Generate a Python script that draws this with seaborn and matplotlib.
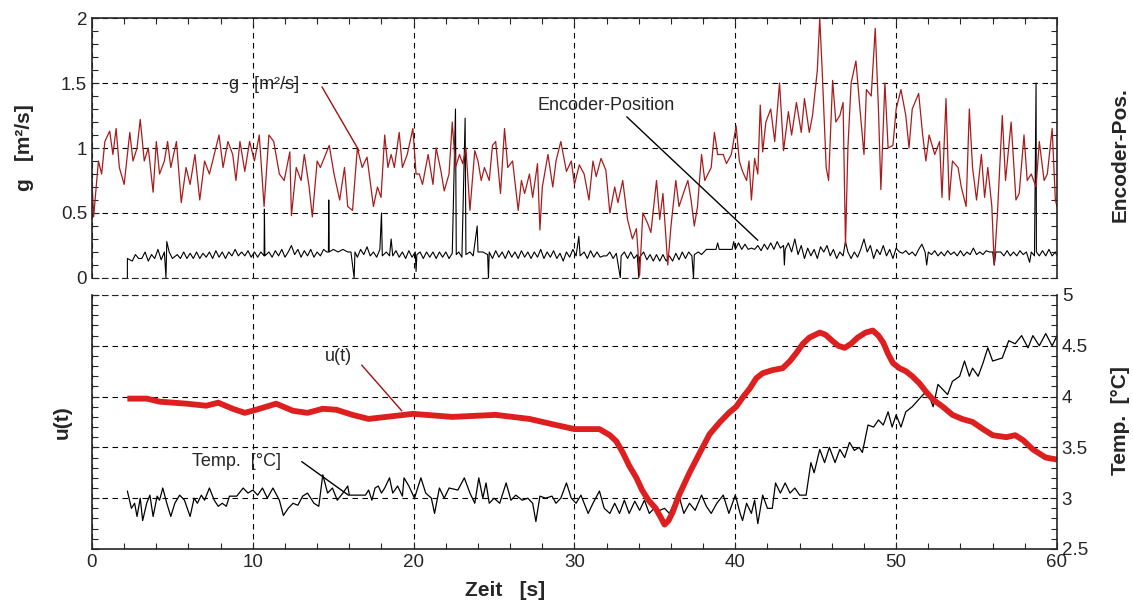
import matplotlib
matplotlib.use("Agg")
import matplotlib.pyplot as plt
import seaborn as sns
from matplotlib.ticker import MultipleLocator

# -----------------------------
# Data
# -----------------------------
g_t = [0.0, 0.1, 0.4, 0.6, 0.8, 1.1, 1.3, 1.5, 1.7, 2.0, 2.35, 2.55, 2.8, 3.0, 3.25, 3.5, 3.8, 4.0, 4.2, 4.5,
       4.7, 4.9, 5.25, 5.55, 5.85, 6.1, 6.4, 6.7, 7.0, 7.3, 7.5, 7.9, 8.15, 8.45, 8.75, 8.95, 9.2, 9.5, 9.8, 10.1,
       10.4, 10.7, 11.0, 11.3, 11.65, 11.95, 12.3, 12.4, 12.7, 13.0, 13.2, 13.5, 13.7, 14.0, 14.2, 14.75, 15.05,
       15.4, 15.7, 15.9, 16.2, 16.5, 16.8, 17.1, 17.5, 17.75, 17.97, 18.2, 18.4, 18.6, 18.8, 19.1, 19.3, 19.6,
       19.95, 20.15, 20.35, 20.55, 20.9, 21.2, 21.4, 21.7, 21.9, 22.2, 22.4, 22.6, 22.85, 23.05, 23.25, 23.5,
       23.8, 24.0, 24.2, 24.4, 24.7, 24.9, 25.1, 25.4, 25.65, 25.85, 26.15, 26.5, 26.7, 26.9, 27.2, 27.4, 27.7,
       27.85, 28.0, 28.35, 28.65, 28.85, 29.15, 29.5, 29.8, 30.0, 30.3, 30.6, 30.9, 31.15, 31.35, 31.65, 31.95,
       32.2, 32.5, 32.7, 33.0, 33.3, 33.6, 33.85, 34.05, 34.25, 34.55, 34.75, 35.1, 35.3, 35.5, 35.8, 36.0, 36.3,
       36.5, 36.85, 37.05, 37.25, 37.45, 37.65, 37.9, 38.1, 38.3, 38.5, 38.7, 38.9, 39.25, 39.45, 39.75, 40.05,
       40.25, 40.45, 40.7, 40.85, 41.0, 41.2, 41.4, 41.55, 41.7, 41.9, 42.2, 42.45, 42.75, 43.0, 43.3, 43.5,
       43.8, 44.1, 44.3, 44.6, 44.8, 45.1, 45.25, 45.4, 45.65, 45.8, 46.05, 46.25, 46.5, 46.7, 46.85, 47.0,
       47.2, 47.5, 47.75, 48.0, 48.15, 48.45, 48.7, 48.9, 49.05, 49.3, 49.5, 49.8, 50.0, 50.3, 50.6, 50.8, 51.0,
       51.4, 51.65, 51.85, 52.05, 52.4, 52.7, 52.85, 53.1, 53.3, 53.5, 53.85, 54.05, 54.35, 54.55, 54.75, 55.0,
       55.3, 55.5, 55.7, 55.95, 56.1, 56.3, 56.6, 56.8, 57.15, 57.45, 57.65, 57.95, 58.15, 58.4, 58.7, 58.9,
       59.2, 59.4, 59.7, 59.9, 60.0]
g_val = [0.75, 0.47, 0.9, 0.8, 1.05, 1.13, 0.95, 1.15, 0.85, 0.72, 1.12, 0.9, 1.0, 1.22, 0.9, 1.0, 0.66, 1.05,
         0.8, 0.9, 1.05, 0.85, 1.05, 0.58, 0.85, 0.72, 0.95, 0.6, 0.9, 0.8, 0.9, 1.1, 0.85, 1.05, 0.95, 0.75,
         1.05, 0.82, 1.05, 0.9, 1.1, 0.55, 1.1, 1.05, 0.8, 0.75, 0.97, 0.48, 0.85, 0.75, 0.95, 0.7, 0.47, 0.9,
         0.85, 1.02, 0.8, 0.6, 0.85, 0.55, 0.52, 1.0, 0.85, 0.93, 0.55, 0.7, 0.62, 1.1, 0.85, 0.95, 0.85, 1.12,
         0.85, 0.95, 1.15, 0.8, 0.8, 0.72, 0.95, 0.72, 1.0, 0.82, 0.67, 0.8, 1.2, 0.85, 0.95, 0.88, 1.0, 0.52,
         0.98, 0.9, 0.75, 0.85, 0.75, 1.02, 1.05, 0.65, 1.15, 0.85, 0.9, 0.52, 0.75, 0.65, 0.8, 0.62, 0.88,
         0.37, 0.7, 0.95, 0.7, 0.9, 1.05, 0.82, 0.9, 0.72, 0.87, 0.8, 0.6, 0.9, 0.78, 0.92, 0.83, 0.5, 0.7,
         0.58, 0.75, 0.45, 0.3, 0.38, 0.02, 0.5, 0.42, 0.35, 0.75, 0.45, 0.65, 0.1, 0.4, 0.75, 0.55, 0.68, 0.75,
         0.6, 0.4, 0.55, 0.95, 0.75, 0.8, 0.85, 1.12, 0.95, 0.95, 0.88, 0.95, 1.17, 0.9, 0.82, 0.75, 0.9, 0.6,
         0.92, 0.8, 1.33, 0.97, 1.2, 1.3, 1.05, 1.5, 0.98, 1.28, 1.1, 1.35, 1.12, 1.38, 1.12, 1.25, 1.6, 2.0,
         1.6, 0.85, 0.75, 1.52, 1.2, 1.25, 1.35, 0.25, 1.0, 1.5, 1.67, 1.3, 0.95, 1.45, 1.4, 1.92, 1.3, 0.68,
         1.5, 1.0, 1.02, 1.3, 1.45, 1.25, 1.0, 1.3, 1.42, 1.1, 0.9, 1.1, 0.95, 1.05, 0.62, 1.38, 0.6, 0.9, 0.85,
         0.7, 0.55, 1.3, 0.85, 0.6, 0.95, 0.62, 0.85, 0.55, 0.1, 0.5, 1.25, 0.75, 1.2, 0.6, 0.65, 1.1, 0.75,
         0.8, 0.7, 1.05, 0.75, 0.8, 1.15, 0.6, 0.55]

enc_t = [2.2, 2.2, 2.5, 2.7, 2.9, 3.1, 3.3, 3.5, 3.7, 3.9, 4.1, 4.3, 4.5, 4.6, 4.65, 4.8, 5.0,
         5.3, 5.5, 5.7, 5.9, 6.1, 6.3, 6.5, 6.7, 6.9, 7.1, 7.3, 7.5, 7.7, 7.9, 8.1, 8.3, 8.5, 8.7, 8.9, 9.1,
         9.3, 9.5, 9.7, 9.9, 10.1, 10.3, 10.5, 10.7, 10.72, 10.75,
         11.0, 11.2, 11.4, 11.6, 11.8, 12.0, 12.2, 12.4, 12.6, 12.8, 13.0, 13.2, 13.4, 13.6, 13.8, 14.0, 14.2,
         14.4, 14.6, 14.7, 14.72, 14.75, 15.0, 15.3, 15.6, 15.9, 16.1, 16.3, 16.35,
         16.5, 16.7, 16.9, 17.1, 17.3, 17.5, 17.7, 17.9, 18.0, 18.05, 18.3, 18.5, 18.6, 18.7, 18.9, 19.1, 19.3,
         19.5, 19.7, 19.9, 20.1, 20.15, 20.2,
         20.4, 20.6, 20.8, 21.0, 21.2, 21.4, 21.6, 21.8, 22.0, 22.2, 22.4, 22.6, 22.65, 22.8, 23.0, 23.2, 23.25,
         23.5, 23.7, 23.95, 24.0, 24.3, 24.6, 24.65, 24.7,
         24.9, 25.1, 25.3, 25.5, 25.7, 25.9, 26.1, 26.3, 26.5, 26.7, 26.9, 27.1, 27.3, 27.5, 27.7, 27.9, 28.1,
         28.3, 28.5, 28.7, 28.9, 29.1, 29.3, 29.5, 29.7, 29.9, 30.1, 30.27, 30.35, 30.6, 30.8, 31.0, 31.2, 31.4,
         31.6, 31.8, 32.0, 32.2, 32.4, 32.6, 32.85, 32.9,
         33.1, 33.3, 33.5, 33.7, 33.9, 34.0, 34.05, 34.3, 34.5, 34.7, 34.9, 35.1, 35.3, 35.5, 35.7, 35.9, 36.1,
         36.3, 36.5, 36.7, 36.9, 37.1, 37.3, 37.4, 37.45, 37.7, 37.9, 38.2,
         38.8, 38.9, 39.0, 39.8, 39.9, 40.0, 40.2, 40.4, 40.6, 40.8, 41.0, 41.2, 41.4, 41.6, 41.8, 42.0, 42.2,
         42.4, 42.6, 42.8, 43.0, 43.05, 43.1,
         43.3, 43.5, 43.7, 43.9, 44.1, 44.3, 44.5, 44.7, 44.9, 45.1, 45.3, 45.5, 45.7, 45.9, 46.1, 46.3, 46.5,
         46.7, 46.85, 47.0, 47.2, 47.4, 47.6, 47.8, 48.0, 48.2, 48.4, 48.6, 48.8, 49.0, 49.2, 49.4, 49.6, 49.8,
         50.0, 50.2, 50.4, 50.6, 50.8, 51.0, 51.2, 51.4, 51.6, 51.8, 51.9, 52.0,
         52.2, 52.4, 52.6, 52.8, 53.0, 53.2, 53.4, 53.6, 53.8, 54.0, 54.2, 54.4, 54.6, 54.8, 55.0, 55.2, 55.4,
         55.6, 55.8, 56.0, 56.1, 56.2, 56.5, 56.7, 56.9, 57.1, 57.3, 57.5, 57.7, 57.9, 58.1, 58.3, 58.4, 58.6,
         58.7, 58.72, 58.9, 59.1, 59.3, 59.5, 59.7, 59.9, 60.0]
enc_val = [0.0, 0.15, 0.13, 0.18, 0.15, 0.15, 0.2, 0.13, 0.18, 0.15, 0.22, 0.14, 0.2, 0.0, 0.28, 0.2, 0.15,
           0.18, 0.15, 0.2, 0.15, 0.19, 0.15, 0.2, 0.15, 0.19, 0.16, 0.2, 0.15, 0.21, 0.16, 0.2, 0.15, 0.2,
           0.17, 0.22, 0.17, 0.2, 0.17, 0.21, 0.16, 0.2, 0.16, 0.2, 0.17, 0.53, 0.17,
           0.2, 0.16, 0.21, 0.17, 0.22, 0.16, 0.2, 0.25, 0.18, 0.22, 0.16, 0.21, 0.17, 0.22, 0.16, 0.2, 0.17,
           0.22, 0.2, 0.2, 0.6, 0.2, 0.22, 0.2, 0.22, 0.2, 0.2, 0.0, 0.2,
           0.16, 0.22, 0.18, 0.24, 0.17, 0.2, 0.16, 0.22, 0.5, 0.17, 0.2, 0.17, 0.3, 0.17, 0.21, 0.16, 0.2,
           0.15, 0.21, 0.16, 0.2, 0.05, 0.18,
           0.2, 0.15, 0.2, 0.16, 0.2, 0.15, 0.2, 0.16, 0.2, 0.15, 0.19, 1.3, 0.18, 0.2, 0.16, 1.23, 0.18,
           0.2, 0.17, 0.4, 0.2, 0.2, 0.18, 0.0, 0.2,
           0.15, 0.21, 0.16, 0.2, 0.15, 0.21, 0.16, 0.2, 0.15, 0.21, 0.16, 0.2, 0.15, 0.2, 0.16, 0.22, 0.15,
           0.2, 0.16, 0.21, 0.15, 0.19, 0.13, 0.2, 0.16, 0.22, 0.17, 0.32, 0.17, 0.2, 0.15, 0.21, 0.16, 0.2,
           0.16, 0.17, 0.17, 0.2, 0.15, 0.19, 0.0, 0.17,
           0.2, 0.15, 0.2, 0.15, 0.18, 0.0, 0.16, 0.2, 0.14, 0.18, 0.13, 0.18, 0.13, 0.18, 0.13, 0.17, 0.13,
           0.19, 0.14, 0.2, 0.15, 0.2, 0.17, 0.0, 0.18, 0.2, 0.18, 0.22,
           0.22, 0.27, 0.22, 0.22, 0.28, 0.22, 0.27, 0.22, 0.26, 0.22, 0.23, 0.22, 0.25, 0.21, 0.26, 0.22, 0.27,
           0.22, 0.28, 0.23, 0.25, 0.1, 0.22,
           0.27, 0.2, 0.3, 0.18, 0.25, 0.15, 0.23, 0.17, 0.22, 0.15, 0.24, 0.2, 0.25, 0.17, 0.22, 0.15, 0.2,
           0.17, 0.28, 0.2, 0.15, 0.2, 0.16, 0.22, 0.3, 0.2, 0.25, 0.15, 0.22, 0.18, 0.25, 0.17, 0.22, 0.15,
           0.23, 0.2, 0.19, 0.21, 0.18, 0.2, 0.17, 0.22, 0.26, 0.2, 0.1, 0.2,
           0.18, 0.21, 0.17, 0.2, 0.17, 0.21, 0.18, 0.2, 0.17, 0.21, 0.17, 0.2, 0.18, 0.23, 0.18, 0.2, 0.18,
           0.21, 0.2, 0.2, 0.1, 0.2, 0.2, 0.17, 0.21, 0.17, 0.2, 0.17, 0.21, 0.18, 0.2, 0.12, 0.2, 0.17,
           1.5, 0.2, 0.17, 0.21, 0.17, 0.22, 0.17, 0.2, 0.17]

# temperature, 12 points per row in both lists
temp_t = [2.2, 2.45, 2.65, 2.8, 3.0, 3.15, 3.4, 3.6, 3.8, 4.05, 4.2, 4.4,
          4.65, 4.9, 5.15, 5.45, 5.75, 6.1, 6.35, 6.55, 6.8, 7.0, 7.3, 7.6,
          7.85, 8.1, 8.35, 8.55, 9.0, 9.4, 9.7, 10.0, 10.3, 10.6, 10.9, 11.25,
          11.65, 11.9, 12.2, 12.5, 12.8, 13.1, 13.4, 13.8, 14.1, 14.35, 14.65, 14.95,
          15.25, 15.6, 15.9, 16.0, 17.0, 17.2, 17.4, 17.6, 17.8, 18.0, 18.2, 18.5,
          18.7, 19.0, 19.3, 19.4, 19.7, 20.05, 20.45, 20.75, 21.1, 21.3, 21.6, 21.9,
          22.2, 22.75, 23.15, 23.5, 23.8, 24.05, 24.3, 24.5, 24.7, 25.0, 25.35, 25.75,
          26.05, 26.35, 26.75, 27.1, 27.4, 27.6, 27.85, 28.2, 28.6, 28.85, 29.15, 29.5,
          29.8, 30.1, 30.4, 30.85, 31.15, 31.55, 31.85, 32.2, 32.5, 32.8, 33.1, 33.4,
          33.75, 34.05, 34.35, 34.65, 34.95, 35.3, 35.6, 35.9, 36.2, 36.5, 36.8, 37.15,
          37.5, 37.9, 38.2, 38.5, 38.85, 39.25, 39.6, 40.0, 40.3, 40.45, 40.7, 41.0,
          41.2, 41.4, 41.7, 42.0, 42.3, 42.5, 42.8, 43.1, 43.4, 43.7, 44.0, 44.4,
          44.7, 44.9, 45.25, 45.55, 45.85, 46.2, 46.5, 46.8, 47.1, 47.4, 47.7, 47.9,
          48.25, 48.6, 48.9, 49.2, 49.5, 49.75, 50.0, 50.3, 50.6, 51.0, 51.45, 51.75,
          52.07, 52.3, 52.6, 52.9, 53.2, 53.5, 53.95, 54.25, 54.55, 54.75, 55.1, 55.4,
          55.7, 56.0, 56.6, 57.0, 57.4, 57.8, 58.2, 58.5, 58.9, 59.3, 59.7, 60.0]
temp_val = [3.07, 2.9, 2.95, 2.82, 3.0, 2.78, 2.95, 3.03, 2.82, 3.02, 2.98, 3.1,
            2.95, 2.82, 2.95, 3.03, 2.98, 2.82, 3.0, 2.95, 3.03, 2.98, 3.1, 2.98,
            2.92, 2.95, 2.92, 3.02, 3.02, 3.1, 3.05, 3.08, 3.03, 3.1, 3.0, 3.1,
            2.98, 2.83, 2.9, 2.95, 2.93, 3.02, 3.05, 2.95, 2.92, 3.23, 3.05, 3.1,
            2.98, 3.05, 3.12, 3.03, 3.03, 3.08, 2.98, 3.1, 3.12, 3.05, 3.1, 3.2,
            3.05, 3.12, 3.02, 3.2, 3.12, 3.0, 3.2, 3.05, 3.0, 2.85, 3.1, 3.0,
            3.1, 3.08, 3.2, 3.05, 2.95, 3.2, 3.0, 3.15, 2.95, 3.0, 2.95, 3.15,
            2.98, 3.03, 2.98, 3.0, 2.95, 2.77, 3.02, 3.0, 3.02, 2.95, 3.0, 3.15,
            3.0, 2.95, 3.03, 2.85, 2.95, 3.07, 2.9, 2.85, 2.95, 2.85, 2.98, 2.85,
            2.97, 2.88, 2.98, 2.85, 2.9, 2.88, 2.9, 2.85, 2.95, 3.02, 2.85, 2.95,
            2.88, 3.03, 2.92, 2.85, 2.95, 3.03, 2.85, 3.03, 2.85, 2.78, 2.95, 2.85,
            2.98, 2.75, 3.03, 2.9, 2.9, 3.15, 3.05, 3.15, 3.05, 3.1, 3.03, 3.03,
            3.35, 3.25, 3.48, 3.35, 3.5, 3.35, 3.48, 3.4, 3.55, 3.47, 3.5, 3.45,
            3.72, 3.7, 3.77, 3.72, 3.85, 3.7, 3.82, 3.7, 3.85, 3.9, 3.98, 4.03,
            4.0, 3.9, 4.12, 4.07, 4.02, 4.15, 4.2, 4.35, 4.2, 4.28, 4.2, 4.33,
            4.48, 4.35, 4.38, 4.55, 4.52, 4.6, 4.48, 4.6, 4.5, 4.62, 4.5, 4.6]

# u(t), 10 points per row in both lists
u_t = [2.2, 3.4, 4.2, 5.9, 7.1, 7.85, 8.75, 9.5, 10.2, 11.45,
       12.5, 13.4, 14.35, 15.2, 16.2, 17.2, 18.3, 19.95, 22.4, 25.1,
       27.2, 28.85, 30.0, 31.55, 32.2, 32.6, 33.0, 33.4, 33.85, 34.2,
       34.6, 35.05, 35.4, 35.6, 35.85, 36.1, 36.5, 37.15, 37.8, 38.4,
       39.05, 39.6, 40.05, 40.5, 40.9, 41.3, 41.7, 42.3, 42.95, 43.4,
       43.8, 44.2, 44.6, 45.25, 45.6, 45.95, 46.4, 46.8, 47.2, 47.6,
       48.1, 48.55, 48.9, 49.2, 49.5, 49.8, 50.2, 50.6, 51.0, 51.45,
       51.9, 52.3, 52.9, 53.5, 54.1, 54.75, 55.4, 56.0, 56.85, 57.4,
       57.9, 58.5, 59.3, 60.0]
u_val = [3.98, 3.98, 3.95, 3.93, 3.91, 3.94, 3.88, 3.84, 3.87, 3.93,
         3.86, 3.84, 3.88, 3.87, 3.82, 3.78, 3.8, 3.83, 3.8, 3.82,
         3.78, 3.72, 3.68, 3.68, 3.62, 3.56, 3.45, 3.32, 3.2, 3.08,
         2.98, 2.9, 2.8, 2.74, 2.78, 2.86, 3.03, 3.25, 3.45, 3.63,
         3.75, 3.84, 3.9, 4.0, 4.08, 4.18, 4.23, 4.26, 4.28, 4.35,
         4.43, 4.52, 4.58, 4.63, 4.61, 4.56, 4.5, 4.48, 4.52, 4.58,
         4.63, 4.65, 4.6, 4.53, 4.42, 4.33, 4.28, 4.25, 4.2, 4.13,
         4.04, 3.97, 3.9, 3.82, 3.78, 3.75, 3.68, 3.62, 3.6, 3.62,
         3.57, 3.48, 3.4, 3.38]

# -----------------------------
# Style
# -----------------------------
sns.set_style("ticks")
plt.rcParams["font.family"] = ["Liberation Sans", "DejaVu Sans"]
plt.rcParams["font.size"] = 13.5

fig = plt.figure(figsize=(11.33, 6.03), dpi=100)
ax1 = fig.add_axes([0.0812, 0.539, 0.8517, 0.4311])
ax2 = fig.add_axes([0.0812, 0.0896, 0.8517, 0.4212])

grid_kw = dict(color="black", linestyle=(0, (5, 4)), linewidth=0.8)
num_fmt = plt.FuncFormatter(lambda v, p: f"{v:g}")

# -----------------------------
# Top panel: g and encoder
# -----------------------------
sns.lineplot(x=enc_t, y=enc_val, ax=ax1, color="black", linewidth=0.8, sort=False, estimator=None)
sns.lineplot(x=g_t, y=g_val, ax=ax1, color="#a81c1c", linewidth=0.9, sort=False, estimator=None)

ax1.set_xlim(0, 60)
ax1.set_ylim(0, 2)
ax1.xaxis.set_major_locator(MultipleLocator(10))
ax1.xaxis.set_minor_locator(MultipleLocator(2))
ax1.yaxis.set_major_locator(MultipleLocator(0.5))
ax1.yaxis.set_minor_locator(MultipleLocator(0.1))
ax1.yaxis.set_major_formatter(num_fmt)
ax1.grid(True, which="major", **grid_kw)
ax1.tick_params(which="both", direction="in", top=True, bottom=False, right=True,
                labelbottom=False, labelsize=13.5, width=0.8)
ax1.tick_params(which="major", length=5)
ax1.tick_params(which="minor", length=4)
ax1.spines["bottom"].set_linestyle((0, (5, 4)))
ax1.spines["bottom"].set_linewidth(0.8)
for s in ["top", "left", "right"]:
    ax1.spines[s].set_linewidth(1.2)
ax1.set_xlabel("")
ax1.set_ylabel("")

ax1.text(8.5, 1.49, "g   [m²/s]", fontsize=13, va="center", ha="left")
ax1.plot([14.3, 16.6], [1.47, 0.98], color="#a01010", linewidth=1.0)
ax1.text(27.7, 1.33, "Encoder-Position", fontsize=13, va="center", ha="left")
ax1.plot([33.25, 41.4], [1.24, 0.29], color="black", linewidth=1.0)

# -----------------------------
# Bottom panel: u(t) and temperature
# -----------------------------
sns.lineplot(x=temp_t, y=temp_val, ax=ax2, color="black", linewidth=0.9, sort=False, estimator=None)
sns.lineplot(x=u_t, y=u_val, ax=ax2, color="#dd1f1f", linewidth=4.2, sort=False, estimator=None,
             solid_joinstyle="round", solid_capstyle="butt")

ax2.set_xlim(0, 60)
ax2.set_ylim(2.5, 5)
ax2.xaxis.set_major_locator(MultipleLocator(10))
ax2.xaxis.set_minor_locator(MultipleLocator(2))
ax2.yaxis.set_major_locator(MultipleLocator(0.5))
ax2.yaxis.set_minor_locator(MultipleLocator(0.1))
ax2.yaxis.set_major_formatter(num_fmt)
ax2.xaxis.set_major_formatter(num_fmt)
ax2.grid(True, which="major", **grid_kw)
ax2.tick_params(which="both", direction="in", top=False, right=True, left=True,
                labelleft=False, labelright=True, labelsize=13.5, width=0.8)
ax2.tick_params(which="major", length=5)
ax2.tick_params(which="minor", length=4)
ax2.spines["top"].set_linestyle((0, (5, 4)))
ax2.spines["top"].set_linewidth(0.8)
for s in ["bottom", "left", "right"]:
    ax2.spines[s].set_linewidth(1.2)
ax2.set_xlabel("")
ax2.set_ylabel("")

ax2.text(14.5, 4.39, "u(t)", fontsize=13, va="center", ha="left")
ax2.plot([16.77, 19.26], [4.31, 3.86], color="#a01010", linewidth=1.0)
ax2.text(6.2, 3.36, "Temp.  [°C]", fontsize=13, va="center", ha="left")
ax2.plot([13.04, 15.94], [3.36, 3.03], color="black", linewidth=1.0)

# -----------------------------
# Axis titles
# -----------------------------
bold = dict(fontsize=15, fontweight="bold")
fig.text(25 / 1133, 1 - 148 / 603, "g   [m²/s]", rotation=90, ha="center", va="center", **bold)
fig.text(1120 / 1133, 1 - 155 / 603, "Encoder-Pos.", rotation=90, ha="center", va="center", **bold)
fig.text(62 / 1133, 1 - 422 / 603, "u(t)", rotation=90, ha="center", va="center", **bold)
fig.text(1120 / 1133, 1 - 421 / 603, "Temp.  [°C]", rotation=90, ha="center", va="center", **bold)
fig.text(505 / 1133, 1 - 590 / 603, "Zeit   [s]", ha="center", va="center", **bold)

fig.savefig("out.png", dpi=100)
